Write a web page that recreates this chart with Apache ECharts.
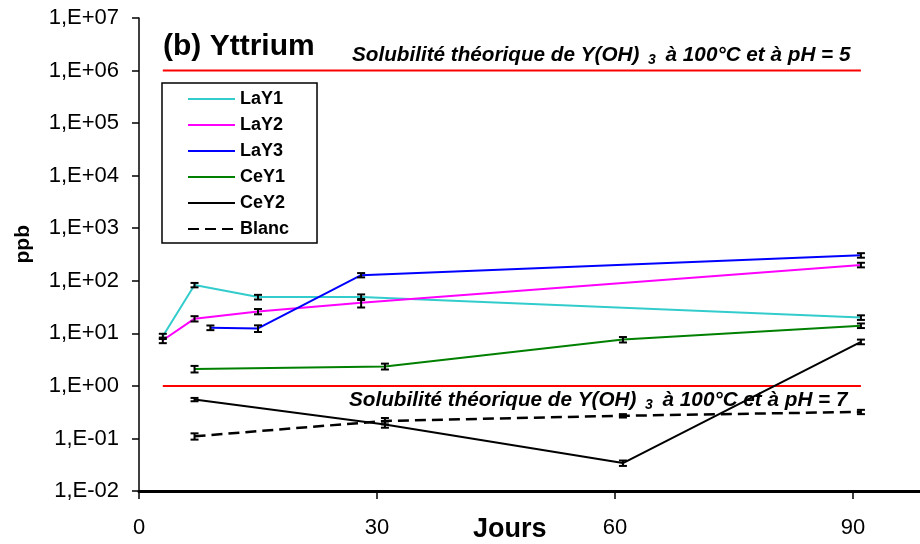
<!DOCTYPE html>
<html><head><meta charset="utf-8">
<script src="https://cdn.jsdelivr.net/npm/echarts/dist/echarts.min.js"></script>
<style>html,body{margin:0;padding:0;background:#fff}#c{width:920px;height:544px}</style>
</head><body><div id="c"></div>
<script>
// ---- data ----
const seriesNames = ['LaY1', 'LaY2', 'LaY3', 'CeY1', 'CeY2', 'Blanc'];
const seriesColors = ['#33CCCC', '#FF00FF', '#0000FF', '#008000', '#000000', '#000000'];

const LaY1_days = [3, 7, 15, 28, 91];
const LaY1_ppb  = [8.8, 83, 49, 49, 20];
const LaY1_err  = [1.0, 8, 5, 6, 2];

const LaY2_days = [3, 7, 15, 28, 91];
const LaY2_ppb  = [7.4, 19, 26, 38, 200];
const LaY2_err  = [0.9, 2.2, 3, 7, 20];

const LaY3_days = [9, 15, 28, 91];
const LaY3_ppb  = [12.8, 12.4, 128, 305];
const LaY3_err  = [1.3, 1.8, 12, 30];

const CeY1_days = [7, 31, 61, 91];
const CeY1_ppb  = [2.1, 2.35, 7.6, 14];
const CeY1_err  = [0.3, 0.3, 0.9, 1.4];

const CeY2_days = [7, 31, 61, 91];
const CeY2_ppb  = [0.55, 0.185, 0.034, 6.9];
const CeY2_err  = [0.04, 0.025, 0.004, 0.7];

const Blanc_days = [7, 31, 61, 91];
const Blanc_ppb  = [0.11, 0.215, 0.27, 0.32];
const Blanc_err  = [0.015, 0.03, 0.02, 0.03];

const solDays = [3, 91];
const solPH5 = 1e6;
const solPH7 = 1;

const xTicks = [0, 30, 60, 90];
const yTickLabels = ['1,E-02','1,E-01','1,E+00','1,E+01','1,E+02','1,E+03','1,E+04','1,E+05','1,E+06','1,E+07'];

const allDays = [LaY1_days, LaY2_days, LaY3_days, CeY1_days, CeY2_days, Blanc_days];
const allPpb  = [LaY1_ppb, LaY2_ppb, LaY3_ppb, CeY1_ppb, CeY2_ppb, Blanc_ppb];
const allErr  = [LaY1_err, LaY2_err, LaY3_err, CeY1_err, CeY2_err, Blanc_err];

// ---- chart ----
const FONT = '"Liberation Sans", Arial, sans-serif';
const chart = echarts.init(document.getElementById('c'), null, {renderer: 'canvas'});

function renderErr(params, api) {
  const x = api.value(0), lo = api.value(1), hi = api.value(2);
  const p1 = api.coord([x, hi]), p2 = api.coord([x, lo]);
  const w = 4;
  const style = {stroke: '#000', lineWidth: 2};
  return {type: 'group', children: [
    {type: 'line', shape: {x1: p1[0], y1: p1[1], x2: p2[0], y2: p2[1]}, style: style},
    {type: 'line', shape: {x1: p1[0] - w, y1: p1[1], x2: p1[0] + w, y2: p1[1]}, style: style},
    {type: 'line', shape: {x1: p2[0] - w, y1: p2[1], x2: p2[0] + w, y2: p2[1]}, style: style}
  ]};
}

const series = [];
series.push({
  name: 'pH5', type: 'line', symbol: 'none', silent: true,
  data: solDays.map(d => [d, solPH5]),
  lineStyle: {color: '#FF0000', width: 2}, z: 1
});
series.push({
  name: 'pH7', type: 'line', symbol: 'none', silent: true,
  data: solDays.map(d => [d, solPH7]),
  lineStyle: {color: '#FF0000', width: 2}, z: 1
});
seriesNames.forEach((name, i) => {
  series.push({
    name: name, type: 'line', symbol: 'none',
    data: allDays[i].map((d, j) => [d, allPpb[i][j]]),
    lineStyle: {color: seriesColors[i], width: name === 'Blanc' ? 2.5 : 2, type: name === 'Blanc' ? [11, 6] : 'solid'},
    itemStyle: {color: seriesColors[i]},
    z: 2
  });
  series.push({
    name: name + '_err', type: 'custom', renderItem: renderErr,
    encode: {x: 0, y: [1, 2]},
    data: allDays[i].map((d, j) => [d, allPpb[i][j] - allErr[i][j], allPpb[i][j] + allErr[i][j]]),
    z: 3, silent: true
  });
});

const option = {
  backgroundColor: '#fff',
  animation: false,
  textStyle: {fontFamily: FONT},
  grid: {left: 139, top: 18, bottom: 53, right: -52, containLabel: false, outerBoundsMode: 'none'},
  xAxis: {
    type: 'value', min: 0, max: 105, interval: 30,
    axisLine: {show: true, lineStyle: {color: '#000', width: 3}},
    axisTick: {show: true, inside: false, length: 8, lineStyle: {color: '#000', width: 1.5}},
    axisLabel: {fontSize: 22, color: '#000', fontFamily: FONT, margin: 26,
      formatter: v => xTicks.indexOf(v) >= 0 ? String(v) : ''},
    splitLine: {show: false}
  },
  yAxis: {
    type: 'log', logBase: 10, min: 0.01, max: 1e7,
    axisLine: {show: true, lineStyle: {color: '#000', width: 1.5}},
    axisTick: {show: true, inside: false, length: 7, lineStyle: {color: '#000', width: 1.5}},
    minorTick: {show: false},
    axisLabel: {fontSize: 22, color: '#000', fontFamily: FONT, margin: 20,
      formatter: v => { const e = Math.round(Math.log10(v)); return yTickLabels[e + 2] || ''; }},
    splitLine: {show: false}
  },
  legend: {
    data: seriesNames,
    orient: 'vertical', left: 162, top: 83,
    padding: [7, 28, 5, 25],
    itemWidth: 47, itemHeight: 14, itemGap: 8,
    borderColor: '#000', borderWidth: 1.5,
    backgroundColor: '#fff',
    itemStyle: {opacity: 0},
    textStyle: {fontSize: 18, fontWeight: 'bold', color: '#000', fontFamily: FONT},
    selectedMode: false
  },
  graphic: [
    {type: 'text', left: 163, top: 32, style: {text: '(b) Yttrium', font: 'bold 30px ' + FONT, fill: '#000'}},
    {type: 'text', left: 13, top: 225, rotation: Math.PI / 2, originX: 0, originY: 0,
      style: {text: 'ppb', font: 'bold 21px ' + FONT, fill: '#000', align: 'center', verticalAlign: 'middle'}},
    {type: 'text', left: 473, top: 516, style: {text: 'Jours', font: 'bold 27px ' + FONT, fill: '#000'}},
    {type: 'text', left: 352, top: 45, style: {
      text: '{a|Solubilité théorique de Y(OH) }{s|3}{a| à 100°C et à pH = 5}',
      rich: {a: {font: 'italic bold 20.7px ' + FONT, fill: '#000'},
             s: {font: 'italic bold 14px ' + FONT, fill: '#000', padding: [10, 4, 0, 3]}}}},
    {type: 'text', left: 349, top: 390, style: {
      text: '{a|Solubilité théorique de Y(OH) }{s|3}{a| à 100°C et à pH = 7}',
      rich: {a: {font: 'italic bold 20.7px ' + FONT, fill: '#000'},
             s: {font: 'italic bold 14px ' + FONT, fill: '#000', padding: [10, 4, 0, 3]}}}}
  ],
  series: series
};
chart.setOption(option);
</script>
</body></html>
